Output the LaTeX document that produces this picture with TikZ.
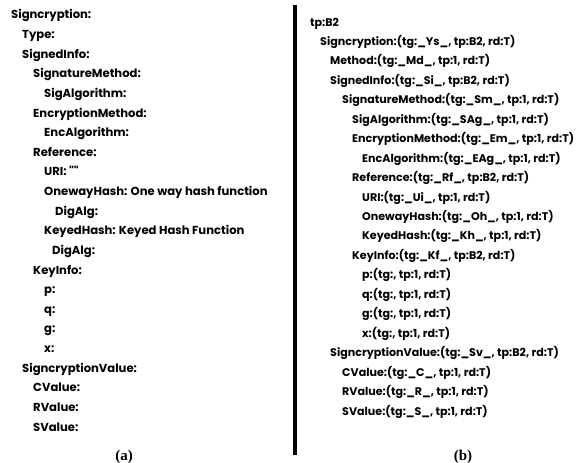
\documentclass[tikz,border=0pt]{standalone}
\usepackage{fontspec}
\newfontfamily\treefont{Poppins}
\newfontfamily\capfont{Liberation Serif}
\begin{document}
\begin{tikzpicture}[x=1pt,y=-1pt,
  entry/.style={anchor=base west,inner sep=0pt,font=\treefont\bfseries\fontsize{11.6}{13}\selectfont},
  entryb/.style={entry,font=\treefont\bfseries\fontsize{11.1}{13}\selectfont},
  caption/.style={anchor=base,inner sep=0pt,font=\capfont\bfseries\fontsize{15}{17}\selectfont}]
\useasboundingbox (0,0) rectangle (576,463);
% (a) element tree
\foreach \n/\x/\t [count=\i from 0] in {
  la/11/{Signcryption:},
  lb/22/{Type:},
  lc/22/{SignedInfo:},
  ld/33/{SignatureMethod:},
  le/44/{SigAlgorithm:},
  lf/33/{EncryptionMethod:},
  lg/44/{EncAlgorithm:},
  lh/33/{Reference:},
  li/44/{URI: ""},
  lj/44/{OnewayHash: One way hash function},
  lk/55/{DigAlg:},
  ll/44/{KeyedHash: Keyed Hash Function},
  lm/52/{DigAlg:},
  ln/33/{KeyInfo:},
  lo/44/{p:},
  lp/44/{q:},
  lq/44/{g:},
  lr/44/{x:},
  ls/22/{SigncryptionValue:},
  lt/33/{CValue:},
  lu/33/{RValue:},
  lv/33/{SValue:}}
  \node[entry] (\n) at (\x,{19+19.62*\i}) {\t};
% (b) annotated tree
\foreach \n/\x/\t [count=\i from 0] in {
  ra/310/{tp:B2},
  rb/320/{Signcryption:(tg:\_Ys\_, tp:B2, rd:T)},
  rc/330/{Method:(tg:\_Md\_, tp:1, rd:T)},
  rd/330/{SignedInfo:(tg:\_Si\_, tp:B2, rd:T)},
  re/342/{SignatureMethod:(tg:\_Sm\_, tp:1, rd:T)},
  rf/352/{SigAlgorithm:(tg:\_SAg\_, tp:1, rd:T)},
  rg/352/{EncryptionMethod:(tg:\_Em\_, tp:1, rd:T)},
  rh/362/{EncAlgorithm:(tg:\_EAg\_, tp:1, rd:T)},
  ri/352/{Reference:(tg:\_Rf\_, tp:B2, rd:T)},
  rj/362/{URI:(tg:\_Ui\_, tp:1, rd:T)},
  rk/362/{OnewayHash:(tg:\_Oh\_, tp:1, rd:T)},
  rl/362/{KeyedHash:(tg:\_Kh\_, tp:1, rd:T)},
  rm/352/{KeyInfo:(tg:\_Kf\_, tp:B2, rd:T)},
  rn/362/{p:(tg:, tp:1, rd:T)},
  ro/362/{q:(tg:, tp:1, rd:T)},
  rp/362/{g:(tg:, tp:1, rd:T)},
  rq/362/{x:(tg:, tp:1, rd:T)},
  rr/330/{SigncryptionValue:(tg:\_Sv\_, tp:B2, rd:T)},
  rs/342/{CValue:(tg:\_C\_, tp:1, rd:T)},
  rt/342/{RValue:(tg:\_R\_, tp:1, rd:T)},
  ru/342/{SValue:(tg:\_S\_, tp:1, rd:T)}}
  \node[entryb] (\n) at (\x,{26+19.45*\i}) {\t};
% separator
\coordinate (septop) at (295,5);
\coordinate (sepbot) at (295,455);
\draw[line width=3.5pt] (septop) -- (sepbot);
% captions
\node[caption] (capa) at (124,460) {(a)};
\node[caption] (capb) at (463,460) {(b)};
\end{tikzpicture}
\end{document}
